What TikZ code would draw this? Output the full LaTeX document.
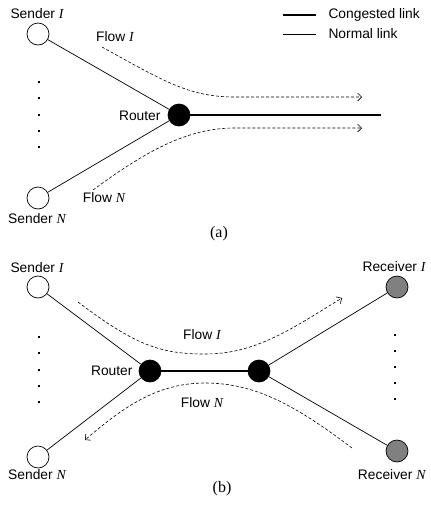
\documentclass[tikz,border=0pt]{standalone}
\usepackage{fontspec}
\setmainfont{Liberation Sans}
\newfontfamily\tmsfont{Liberation Serif}
\newcommand{\vi}[1]{{\tmsfont\itshape #1}}
\usetikzlibrary{arrows.meta}
\begin{document}
\begin{tikzpicture}[x=1pt,y=-1pt,
  every node/.style={font=\fontsize{13.8}{15}\selectfont},
  host/.style={circle,draw,line width=0.7pt,minimum size=22pt,inner sep=0pt},
  sender/.style={host,fill=white},
  receiver/.style={host,fill={rgb,255:red,128;green,128;blue,128}},
  router/.style={host,fill=black},
  normal/.style={line width=0.7pt},
  congested/.style={line width=2.4pt},
  flow/.style={line width=0.6pt,dash pattern=on 3pt off 2pt,-{Straight Barb[length=4pt,width=8pt]}},
  dotmark/.style={rectangle,fill=black,inner sep=0pt,minimum size=2.2pt},
  subcap/.style={font=\fontsize{16}{18}\selectfont\tmsfont}]
\useasboundingbox (0,0) rectangle (431,515);
% ---------------- (a) ----------------
\node[sender] (sa1) at (38,34) {};
\node[sender] (saN) at (38,198) {};
\node[router] (ra) at (179,115) {};
\coordinate (aend) at (381,115);
\node at (37,14) {Sender \vi{I}};
\node at (37,219) {Sender \vi{N}};
\node[anchor=east] at (164,116) {Router};
\foreach \y [count=\i] in {82,98,115,131,147} \node[dotmark] (da\i) at (39,\y) {};
\draw[normal] (sa1) -- (ra);
\draw[normal] (saN) -- (ra);
\draw[congested] (ra) -- (aend);
\node at (115,37) {Flow \vi{I}};
\node at (104,198) {Flow \vi{N}};
\coordinate (fa1s) at (102,47);
\coordinate (fa1m) at (235,97);
\coordinate (fa1e) at (362,97);
\coordinate (faNs) at (93,190);
\coordinate (faNm) at (235,128);
\coordinate (faNe) at (362,128);
\draw[flow] (fa1s) .. controls (165,82) and (190,97) .. (fa1m) -- (fa1e);
\draw[flow] (faNs) .. controls (150,148) and (190,128) .. (faNm) -- (faNe);
% legend
\coordinate (l1a) at (283,15);
\coordinate (l1b) at (316,15);
\coordinate (l2a) at (283,34);
\coordinate (l2b) at (316,34);
\draw[congested] (l1a) -- (l1b);
\draw[normal] (l2a) -- (l2b);
\node[anchor=west] at (325,15) {Congested link};
\node[anchor=west] at (325,34) {Normal link};
\node[subcap] at (219,234) {(a)};
% ---------------- (b) ----------------
\node[sender] (sb1) at (38,287) {};
\node[sender] (sbN) at (38,457) {};
\node[router] (rb1) at (150,371) {};
\node[router] (rb2) at (259,371) {};
\node[receiver] (rc1) at (397,287) {};
\node[receiver] (rcN) at (397,451) {};
\node at (37,268) {Sender \vi{I}};
\node at (37,475) {Sender \vi{N}};
\node[anchor=east] at (136,371) {Router};
\node[anchor=east] at (429,267) {Receiver \vi{I}};
\node[anchor=east] at (429,475) {Receiver \vi{N}};
\foreach \y [count=\i] in {337,353,370,386,402} \node[dotmark] (db\i) at (39,\y) {};
\foreach \y [count=\i] in {335,351,367,383,399} \node[dotmark] (dr\i) at (395,\y) {};
\draw[normal] (sb1) -- (rb1);
\draw[normal] (sbN) -- (rb1);
\draw[congested] (rb1) -- (rb2);
\draw[normal] (rb2) -- (rc1);
\draw[normal] (rb2) -- (rcN);
\node at (202,335) {Flow \vi{I}};
\node at (202,403) {Flow \vi{N}};
\coordinate (fb1s) at (78,302);
\coordinate (fb1m) at (205,354);
\coordinate (fb1e) at (342,298);
\coordinate (fbNs) at (352,448);
\coordinate (fbNm) at (205,383);
\coordinate (fbNe) at (85,440);
\draw[flow] (fb1s) .. controls (135,345) and (160,354) .. (fb1m) .. controls (255,354) and (290,330) .. (fb1e);
\draw[flow] (fbNs) .. controls (295,405) and (255,383) .. (fbNm) .. controls (155,383) and (120,410) .. (fbNe);
\node[subcap] at (222,489) {(b)};
\end{tikzpicture}
\end{document}
